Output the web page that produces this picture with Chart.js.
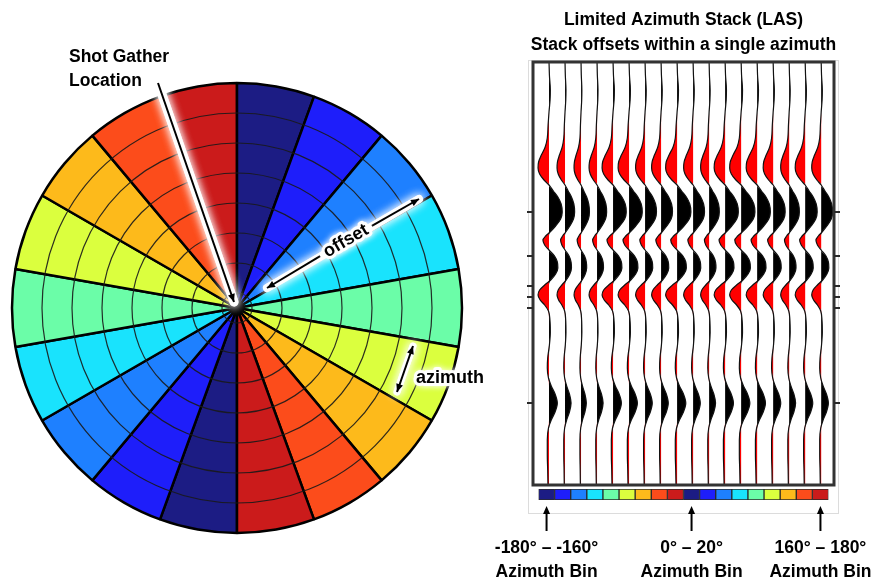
<!DOCTYPE html>
<html>
<head>
<meta charset="utf-8">
<script src="https://cdn.jsdelivr.net/npm/chart.js@4.4.1/dist/chart.umd.min.js"></script>
<style>
  html, body { margin: 0; padding: 0; background: #fff; }
  body { width: 872px; height: 584px; position: relative; overflow: hidden; }
  .box { position: absolute; }
</style>
</head>
<body>
<div class="box" style="left:0;top:0;width:500px;height:584px"><canvas id="polar"></canvas></div>
<div class="box" style="left:500px;top:0;width:372px;height:516px"><canvas id="wiggle"></canvas></div>
<div class="box" style="left:480px;top:480px;width:392px;height:104px"><canvas id="bins"></canvas></div>
<script>
// azimuth bins (start of each 20 degree bin), ordered as on the colour bar
const azimuthBinStart = [-180, -160, -140, -120, -100, -80, -60, -40, -20, 0, 20, 40, 60, 80, 100, 120, 140, 160];
// full offset reach of every bin on the rose diagram
const binMaxOffset = [7.5, 7.5, 7.5, 7.5, 7.5, 7.5, 7.5, 7.5, 7.5, 7.5, 7.5, 7.5, 7.5, 7.5, 7.5, 7.5, 7.5, 7.5];
// offset rings drawn over the rose
const ringOffsets = [0.5, 1.5, 2.5, 3.5, 4.5, 5.5, 6.5];
// bins that get an arrow + label under the colour bar
const labelledBins = [0, 9, 17];

// stacked trace: sample times (top of panel = 0) and normalised amplitude
const times = [0, 13, 28, 38, 50, 63, 76, 85, 93, 100, 106, 112, 118, 123, 129, 135, 142, 150, 157, 164,
  170, 174, 178, 183, 188, 194, 200, 206, 212, 218, 223, 228, 233, 238, 243, 249, 258, 270, 283, 296,
  306, 316, 324, 332, 341, 350, 358, 366, 378, 393, 408, 423];
const wavelet = [0, 0.03, 0.1, 0.08, 0, -0.07, -0.13, -0.29, -0.58, -0.79, -0.83, -0.71, -0.38, 0, 0.33, 0.67, 0.92, 1, 0.88, 0.5,
  0.08, -0.25, -0.46, -0.33, 0, 0.42, 0.63, 0.67, 0.5, 0.13, -0.33, -0.71, -0.83, -0.67, -0.33, -0.04, 0.07, 0.1, 0.03, -0.1,
  -0.13, -0.04, 0.17, 0.46, 0.63, 0.46, 0.17, -0.04, -0.13, -0.13, -0.1, -0.08];
// relative strength of each azimuth stack
const traceGains = [1.1, 0.8, 0.7, 0.8, 1.1, 1.1, 0.95, 0.95, 1.15, 0.95, 0.85, 1.1, 1.15, 1.1, 1.0, 0.85, 1.0, 0.95];
// event markers on the panel border
const markerTimes = [150, 194, 224, 235, 246, 341];

const jet = ['#1c1c84', '#1e1efa', '#1e80ff', '#19e3fd', '#6bfda8', '#dbff3e', '#fdba1b', '#fc4c1b', '#cb1b1b'];
const binColors = jet.concat(jet);
const binLabels = azimuthBinStart.map(a => `${a}° – ${a + 20}°`);
const FONT = 'Liberation Sans';

Chart.defaults.font.family = FONT;
Chart.defaults.animation = false;
Chart.defaults.plugins.legend.display = false;
Chart.defaults.plugins.tooltip.enabled = false;

function arrowHead(ctx, fromX, fromY, toX, toY, len, half) {
  const a = Math.atan2(toY - fromY, toX - fromX);
  ctx.beginPath();
  ctx.moveTo(toX, toY);
  ctx.lineTo(toX - len * Math.cos(a) + half * Math.sin(a), toY - len * Math.sin(a) - half * Math.cos(a));
  ctx.lineTo(toX - len * Math.cos(a) - half * Math.sin(a), toY - len * Math.sin(a) + half * Math.cos(a));
  ctx.closePath();
  ctx.fill();
}

function glowLine(ctx, pts, width) {
  ctx.save();
  ctx.strokeStyle = 'rgba(255,255,255,0.85)';
  ctx.shadowColor = '#fff';
  ctx.shadowBlur = 10;
  ctx.lineWidth = width;
  ctx.lineCap = 'round';
  ctx.beginPath();
  ctx.moveTo(pts[0], pts[1]);
  ctx.lineTo(pts[2], pts[3]);
  ctx.stroke();
  ctx.stroke();
  ctx.restore();
}

function blackArrow(ctx, x1, y1, x2, y2, both) {
  ctx.save();
  ctx.strokeStyle = '#000';
  ctx.fillStyle = '#000';
  ctx.lineWidth = 2;
  ctx.beginPath();
  ctx.moveTo(x1, y1);
  ctx.lineTo(x2, y2);
  ctx.stroke();
  arrowHead(ctx, x1, y1, x2, y2, 8, 3.5);
  if (both) arrowHead(ctx, x2, y2, x1, y1, 8, 3.5);
  ctx.restore();
}

function glowText(ctx, text, x, y, align) {
  ctx.save();
  ctx.font = `bold 18px ${FONT}`;
  ctx.textAlign = align;
  ctx.textBaseline = 'middle';
  ctx.shadowColor = '#fff';
  ctx.shadowBlur = 6;
  ctx.strokeStyle = 'rgba(255,255,255,0.95)';
  ctx.lineWidth = 6;
  ctx.lineJoin = 'round';
  ctx.strokeText(text, x, y);
  ctx.shadowBlur = 0;
  ctx.fillStyle = '#000';
  ctx.fillText(text, x, y);
  ctx.restore();
}

const roseNotes = {
  id: 'roseNotes',
  afterDraw(chart) {
    const ctx = chart.ctx;
    // shot gather arrow
    glowLine(ctx, [158, 83, 234, 302], 9);
    blackArrow(ctx, 158, 83, 234, 302, false);
    ctx.save();
    ctx.font = `bold 17.5px ${FONT}`;
    ctx.fillStyle = '#000';
    ctx.textBaseline = 'middle';
    ctx.fillText('Shot Gather', 69, 57);
    ctx.fillText('Location', 69, 81);
    ctx.restore();

    // offset arrow, broken by its label
    const ox1 = 267, oy1 = 288, ox2 = 419, oy2 = 199;
    const ang = Math.atan2(oy2 - oy1, ox2 - ox1);
    glowLine(ctx, [ox1, oy1, ox2, oy2], 8);
    const cx = 346, cy = 241;
    const gap = 30;
    blackArrow(ctx, cx - gap * Math.cos(ang), cy - gap * Math.sin(ang), ox1, oy1, false);
    blackArrow(ctx, cx + gap * Math.cos(ang), cy + gap * Math.sin(ang), ox2, oy2, false);
    ctx.save();
    ctx.translate(cx, cy);
    ctx.rotate(ang);
    glowText(ctx, 'offset', 0, 0, 'center');
    ctx.restore();

    // azimuth arrow
    glowLine(ctx, [413, 346, 397, 392], 7);
    blackArrow(ctx, 413, 346, 397, 392, true);
    glowText(ctx, 'azimuth', 416, 378, 'left');
  }
};

new Chart(document.getElementById('polar'), {
  type: 'polarArea',
  data: {
    labels: binLabels,
    datasets: [{
      data: binMaxOffset,
      backgroundColor: binColors,
      borderColor: '#000',
      borderWidth: 2.5,
      clip: false
    }]
  },
  options: {
    responsive: true,
    maintainAspectRatio: false,
    layout: {padding: {left: 12, top: 83, right: 38, bottom: 51}},
    scales: {
      r: {
        min: 0,
        max: 7.5,
        startAngle: 180,
        ticks: {display: false},
        afterBuildTicks: scale => {
          scale.ticks = [0].concat(ringOffsets).map(v => ({value: v}));
        },
        grid: {circular: true, color: 'rgba(25,25,25,0.9)', lineWidth: 1.2, z: 1},
        angleLines: {display: false},
        pointLabels: {display: false}
      }
    }
  },
  plugins: [roseNotes]
});

// trace datasets: positive lobes black, negative lobes red, then the wiggle line
const peakDeflection = 0.75;
const fillSets = [];
const lineSets = [];
traceGains.forEach((g, i) => {
  const base = i + 1;
  const amp = wavelet.map(w => w * g * peakDeflection);
  const common = {pointRadius: 0, cubicInterpolationMode: 'monotone', order: 1, borderWidth: 0};
  fillSets.push(Object.assign({
    data: times.map((t, k) => ({x: base + Math.max(0, amp[k]), y: t})),
    backgroundColor: '#000',
    fill: {value: base}
  }, common));
  fillSets.push(Object.assign({
    data: times.map((t, k) => ({x: base + Math.min(0, amp[k]), y: t})),
    backgroundColor: '#ff0000',
    fill: {value: base}
  }, common));
  lineSets.push({
    data: times.map((t, k) => ({x: base + amp[k], y: t})),
    borderColor: '#111',
    borderWidth: 1.2,
    pointRadius: 0,
    cubicInterpolationMode: 'monotone',
    fill: false,
    order: 0
  });
});

// panel frame plus event marker ticks on both sides
const panelFrame = {
  id: 'panelFrame',
  afterDatasetsDraw(chart) {
    const {ctx, chartArea: a} = chart;
    const ys = chart.scales.y;
    ctx.save();
    ctx.strokeStyle = '#dcdcdc';
    ctx.lineWidth = 1;
    ctx.strokeRect(28.5, 60.5, 310, 453);
    ctx.strokeStyle = '#333';
    ctx.lineWidth = 3;
    ctx.strokeRect(a.left, a.top, a.right - a.left, a.bottom - a.top);
    ctx.lineWidth = 2;
    ctx.strokeStyle = '#2a2a2a';
    markerTimes.forEach(t => {
      const y = Math.round(ys.getPixelForValue(t));
      ctx.beginPath();
      ctx.moveTo(a.left - 6, y);
      ctx.lineTo(a.left, y);
      ctx.moveTo(a.right, y);
      ctx.lineTo(a.right + 6, y);
      ctx.stroke();
    });
    ctx.restore();
  }
};

const sideAxis = {
  min: 0,
  max: 423,
  reverse: true,
  ticks: {display: false},
  afterFit: scale => { scale.width = 7; },
  grid: {display: false},
  border: {display: false}
};

new Chart(document.getElementById('wiggle'), {
  type: 'line',
  data: {datasets: lineSets.concat(fillSets)},
  options: {
    responsive: true,
    maintainAspectRatio: false,
    indexAxis: 'y',
    layout: {padding: {left: 26, right: 31, top: 0, bottom: 31}},
    plugins: {
      title: {
        display: true,
        text: ['Limited Azimuth Stack (LAS)', 'Stack offsets within a single azimuth'],
        color: '#000',
        font: {size: 17.5, weight: 'bold', lineHeight: 25 / 17.5},
        padding: {top: 8, bottom: 4}
      }
    },
    scales: {
      x: {type: 'linear', min: 0, max: 18.8, display: false},
      y: Object.assign({type: 'linear', position: 'left'}, sideAxis),
      y2: Object.assign({type: 'linear', position: 'right'}, sideAxis)
    }
  },
  plugins: [panelFrame]
});

// colour bar with azimuth bin labels
const binArrows = {
  id: 'binArrows',
  afterDraw(chart) {
    const ctx = chart.ctx;
    const xs = chart.scales.x;
    ctx.save();
    ctx.strokeStyle = '#000';
    ctx.fillStyle = '#000';
    ctx.lineWidth = 2;
    labelledBins.forEach(i => {
      const x = xs.getPixelForValue(i);
      ctx.beginPath();
      ctx.moveTo(x, 51);
      ctx.lineTo(x, 32);
      ctx.stroke();
      arrowHead(ctx, x, 51, x, 26, 8, 3.5);
    });
    ctx.restore();
  }
};

new Chart(document.getElementById('bins'), {
  type: 'bar',
  data: {
    labels: binLabels,
    datasets: [{
      data: azimuthBinStart.map(() => 1),
      backgroundColor: binColors,
      borderColor: '#2a2a2a',
      borderWidth: 1,
      borderSkipped: false,
      barPercentage: 1,
      categoryPercentage: 1
    }]
  },
  options: {
    responsive: true,
    maintainAspectRatio: false,
    layout: {padding: {left: 58.5, right: 43.5, top: 9, bottom: 0}},
    scales: {
      x: {
        grid: {display: false, drawTicks: false},
        border: {display: false},
        afterFit: scale => {
          scale.height = 84;
          scale.paddingLeft = 0;
          scale.paddingRight = 0;
        },
        ticks: {
          autoSkip: false,
          maxRotation: 0,
          minRotation: 0,
          padding: 36,
          color: '#000',
          font: {size: 17.5, weight: 'bold', lineHeight: 24 / 17.5},
          callback: (v, i) => labelledBins.includes(i) ? [binLabels[i], 'Azimuth Bin'] : ''
        }
      },
      y: {display: false, min: 0, max: 1}
    }
  },
  plugins: [binArrows]
});
</script>
</body>
</html>
